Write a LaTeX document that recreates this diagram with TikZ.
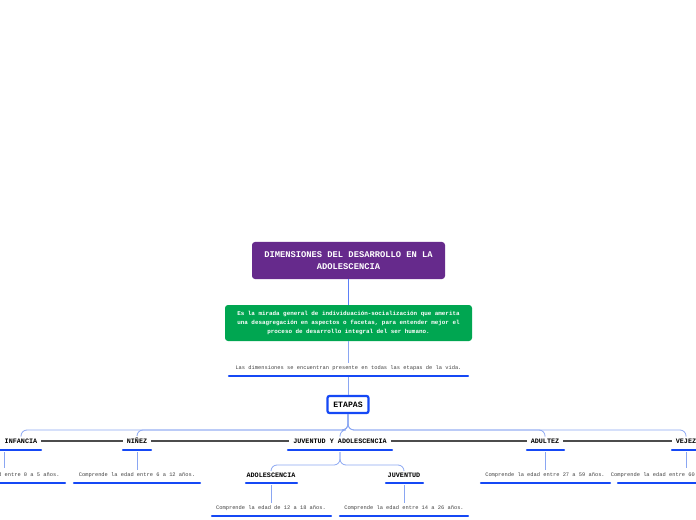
\documentclass[tikz,border=0pt]{standalone}
\usepackage{fontspec}
\setmainfont{Liberation Mono}
\definecolor{purp}{HTML}{662A8C}
\definecolor{grn}{HTML}{00A651}
\definecolor{ublue}{HTML}{1548F5}
\definecolor{lblue}{HTML}{8AA6F2}
\tikzset{
  mapbox/.style={rounded corners=3pt, text=white, font=\bfseries\fontsize{5.9}{9}\selectfont, align=center},
  stage/.style={font=\bfseries\fontsize{6.8}{8}\selectfont, inner sep=2pt},
  desc/.style={font=\fontsize{5.4}{6}\selectfont, text=black!75, inner sep=2pt},
  uline/.style={ublue, line width=2.4pt, line cap=round},
  link/.style={lblue, line width=0.8pt, rounded corners=6pt},
  peer/.style={black!70, line width=1.2pt}
}
\begin{document}
\begin{tikzpicture}[x=1bp,y=-1bp]
    \useasboundingbox (0,0) rectangle (696,520);
    \clip (0,0) rectangle (696,520);

    % --- upper chain ---
    \node[mapbox, fill=purp, minimum width=193bp, minimum height=37bp, font=\bfseries\fontsize{8.8}{12}\selectfont] (title) at (348.5,260.5) {DIMENSIONES DEL DESARROLLO EN LA\\ADOLESCENCIA};
    \node[mapbox, fill=grn, minimum width=247bp, minimum height=36bp] (general) at (348.5,323) {Es la mirada general de individuación-socialización que amerita\\una desagregación en aspectos o facetas, para entender mejor el\\proceso de desarrollo integral del ser humano.};
    \node[desc] (present) at (348.5,368) {Las dimensiones se encuentran presente en todas las etapas de la vida.};
    \draw[uline] (229,376) -- (468,376);
    \node[draw=ublue, line width=2.2pt, fill=white, rounded corners=2pt, font=\bfseries\fontsize{8.2}{9}\selectfont, minimum width=41bp, minimum height=17bp, inner sep=1pt] (etapas) at (348,404.5) {ETAPAS};

    \draw[ublue!70, line width=0.9pt] (title.south) -- (general.north);
    \draw[lblue, line width=0.9pt] (general.south) -- (present.north);
    \draw[lblue, line width=0.9pt] (348,377) -- (etapas.north);

    % --- stages ---
    \node[stage] (infancia) at (21,441) {INFANCIA};
    \node[stage] (ninez) at (137,441) {NIÑEZ};
    \node[stage] (juventudadol) at (340,441) {JUVENTUD Y ADOLESCENCIA};
    \node[stage] (adultez) at (545,441) {ADULTEZ};
    \node[stage] (vejez) at (686,441) {VEJEZ};
    \draw[uline] (0,450) -- (41,450);
    \draw[uline] (123,450) -- (151,450);
    \draw[uline] (288,450) -- (392,450);
    \draw[uline] (527,450) -- (564,450);
    \draw[uline] (672,450) -- (700,450);

    \foreach \a/\b in {infancia/ninez, ninez/juventudadol, juventudadol/adultez, adultez/vejez}
        \draw[peer] ([xshift=2bp]\a.east) -- ([xshift=-2bp]\b.west);

    \foreach \s in {infancia, ninez, juventudadol, adultez, vejez}
        \draw[link] (etapas.south) -- (348,430) -| (\s.north);

    % --- descriptions ---
    \node[desc] (dinf) at (3,475) {Comprende la edad entre 0 a 5 años.};
    \node[desc] (dnin) at (137,475) {Comprende la edad entre 6 a 12 años.};
    \node[desc] (dadu) at (545,475) {Comprende la edad entre 27 a 59 años.};
    \node[desc] (dvej) at (682,475) {Comprende la edad entre 60 años en adelante.};
    \draw[uline] (-60,483) -- (65,483);
    \draw[uline] (74,483) -- (200,483);
    \draw[uline] (481,483) -- (610,483);
    \draw[uline] (618,483) -- (760,483);
    \draw[lblue, line width=0.8pt] (4,452) -- (4,468);
    \draw[lblue, line width=0.8pt] (ninez.south |- 0,452) -- (dnin.north);
    \draw[lblue, line width=0.8pt] (adultez.south |- 0,452) -- (dadu.north);
    \draw[lblue, line width=0.8pt] (686,452) -- (686,468);

    % --- sub stages ---
    \node[stage] (adolescencia) at (271,475) {ADOLESCENCIA};
    \node[stage] (juventud) at (404,475) {JUVENTUD};
    \draw[uline] (246,483) -- (297,483);
    \draw[uline] (386,483) -- (423,483);
    \foreach \s in {adolescencia, juventud}
        \draw[link] (340,452) -- (340,465) -| (\s.north);

    \node[desc] (dado) at (271,508) {Comprende la edad de 12 a 18 años.};
    \node[desc] (djuv) at (404,508) {Comprende la edad entre 14 a 26 años.};
    \draw[uline] (212,516) -- (331,516);
    \draw[uline] (340,516) -- (468,516);
    \draw[lblue, line width=0.8pt] (271,485) -- (dado.north);
    \draw[lblue, line width=0.8pt] (404,485) -- (djuv.north);
\end{tikzpicture}
\end{document}
